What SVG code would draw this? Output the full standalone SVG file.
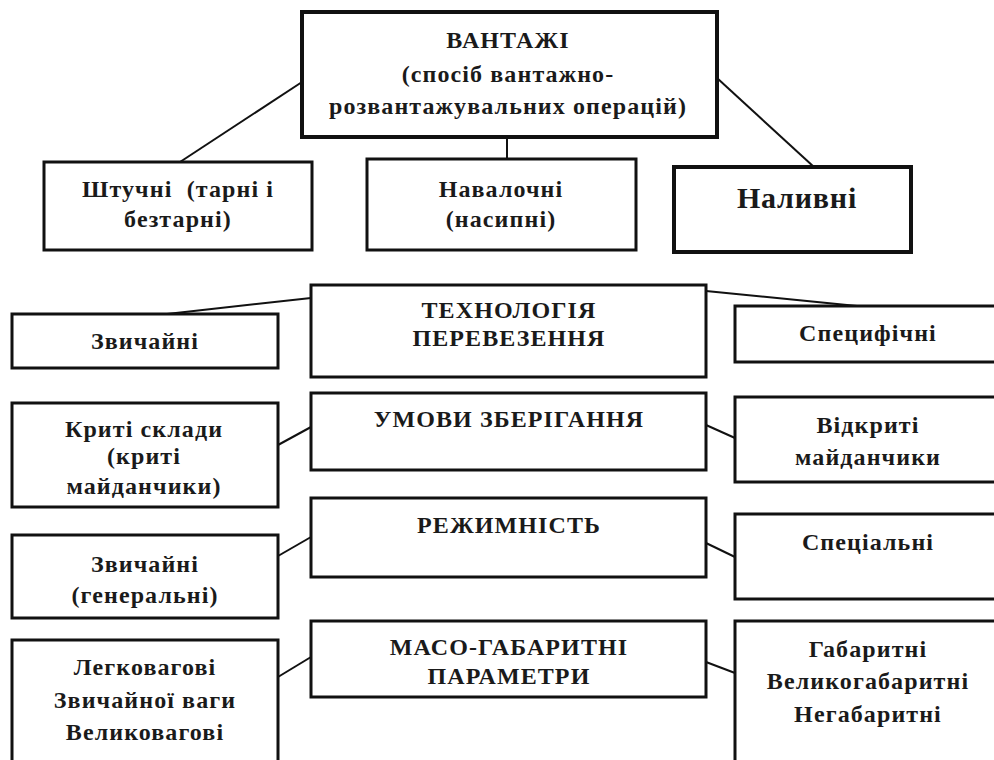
<svg xmlns="http://www.w3.org/2000/svg" width="994" height="760" viewBox="0 0 994 760">
  <style>
    .box { fill: #ffffff; stroke: #111111; stroke-width: 3; }
    .thick { stroke-width: 4; }
    .link { stroke: #111111; stroke-width: 2; fill: none; }
    .lbl { font-family: 'Liberation Serif', 'DejaVu Serif', serif; font-weight: bold; fill: #1a1a1a; text-anchor: middle; font-size: 24px; letter-spacing: 1.1px; }
    .big { font-size: 30px; letter-spacing: 0.8px; }
  </style>
  <rect width="994" height="760" fill="#ffffff"/>

  <!-- connectors -->
  <g id="connectors">
    <line class="link" x1="302" y1="82" x2="180" y2="162"/>
    <line class="link" x1="507" y1="137" x2="507" y2="160"/>
    <line class="link" x1="717" y1="78" x2="814" y2="167"/>
    <line class="link" x1="311" y1="298" x2="167" y2="314"/>
    <line class="link" x1="706" y1="291" x2="857" y2="306"/>
    <line class="link" x1="278" y1="445" x2="311" y2="427"/>
    <line class="link" x1="706" y1="425" x2="735" y2="438"/>
    <line class="link" x1="278" y1="556" x2="311" y2="537"/>
    <line class="link" x1="706" y1="543" x2="735" y2="557"/>
    <line class="link" x1="278" y1="677" x2="311" y2="657"/>
    <line class="link" x1="706" y1="662" x2="735" y2="673"/>
  </g>

  <g class="lbl">
  <!-- top level -->
  <g id="cargo">
    <rect class="box thick" x="302" y="12" width="415" height="125"/>
    <text x="508" y="48">ВАНТАЖІ</text>
    <text x="508" y="82">(спосіб вантажно-</text>
    <text x="508" y="114">розвантажувальних операцій)</text>
  </g>
  <g id="piece">
    <rect class="box" x="44" y="162" width="268" height="88"/>
    <text x="178" y="197" xml:space="preserve">Штучні  (тарні і</text>
    <text x="178" y="227">безтарні)</text>
  </g>
  <g id="bulk">
    <rect class="box" x="367" y="159" width="269" height="91"/>
    <text x="501" y="197">Навалочні</text>
    <text x="501" y="227">(насипні)</text>
  </g>
  <g id="liquid">
    <rect class="box thick" x="674" y="167" width="237" height="85"/>
    <text class="big" x="797" y="208">Наливні</text>
  </g>

  <!-- transport technology -->
  <g id="tech">
    <rect class="box" x="311" y="285" width="395" height="92"/>
    <text x="509" y="318">ТЕХНОЛОГІЯ</text>
    <text x="509" y="346">ПЕРЕВЕЗЕННЯ</text>
  </g>
  <g id="tech-usual">
    <rect class="box" x="12" y="314" width="266" height="54"/>
    <text x="145" y="349">Звичайні</text>
  </g>
  <g id="tech-specific">
    <rect class="box" x="735" y="306" width="270" height="56"/>
    <text x="868" y="341">Специфічні</text>
  </g>

  <!-- storage conditions -->
  <g id="storage">
    <rect class="box" x="311" y="393" width="395" height="77"/>
    <text x="509" y="427">УМОВИ ЗБЕРІГАННЯ</text>
  </g>
  <g id="storage-covered">
    <rect class="box" x="12" y="403" width="266" height="104"/>
    <text x="144" y="437">Криті склади</text>
    <text x="144" y="464">(криті</text>
    <text x="144" y="494">майданчики)</text>
  </g>
  <g id="storage-open">
    <rect class="box" x="735" y="397" width="270" height="85"/>
    <text x="868" y="433">Відкриті</text>
    <text x="868" y="465">майданчики</text>
  </g>

  <!-- regime -->
  <g id="regime">
    <rect class="box" x="311" y="498" width="395" height="79"/>
    <text x="509" y="533">РЕЖИМНІСТЬ</text>
  </g>
  <g id="regime-general">
    <rect class="box" x="12" y="535" width="266" height="83"/>
    <text x="145" y="572">Звичайні</text>
    <text x="145" y="603">(генеральні)</text>
  </g>
  <g id="regime-special">
    <rect class="box" x="735" y="514" width="270" height="85"/>
    <text x="868" y="550">Спеціальні</text>
  </g>

  <!-- mass and size -->
  <g id="dimensions">
    <rect class="box" x="311" y="621" width="395" height="76"/>
    <text x="509" y="655">МАСО-ГАБАРИТНІ</text>
    <text x="509" y="684">ПАРАМЕТРИ</text>
  </g>
  <g id="weight">
    <rect class="box" x="12" y="640" width="266" height="130"/>
    <text x="145" y="675">Легковагові</text>
    <text x="145" y="708">Звичайної ваги</text>
    <text x="145" y="740">Великовагові</text>
  </g>
  <g id="size">
    <rect class="box" x="735" y="621" width="270" height="150"/>
    <text x="868" y="657">Габаритні</text>
    <text x="868" y="689">Великогабаритні</text>
    <text x="868" y="722">Негабаритні</text>
  </g>
  </g>
</svg>
